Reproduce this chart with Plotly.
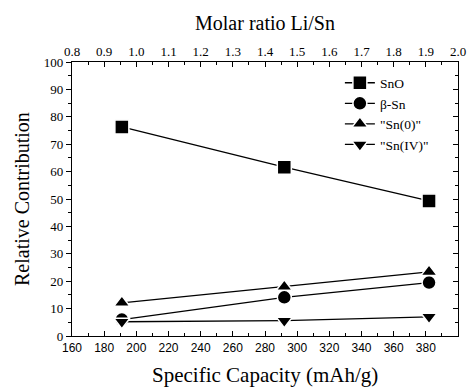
import plotly.graph_objects as go

capacity = [191, 292, 382]
sno = [76.3, 61.6, 49.3]
beta_sn = [6.0, 14.1, 19.5]
sn0 = [12.1, 18.0, 23.4]
sniv = [5.2, 5.6, 7.0]
series_names = ["SnO", "β-Sn", "\"Sn(0)\"", "\"Sn(IV)\""]
symbols = ["square", "circle", "triangle-up", "triangle-down"]

serif = "Liberation Serif"
fig = go.Figure()
for name, vals, sym in zip(series_names, [sno, beta_sn, sn0, sniv], symbols):
    fig.add_trace(go.Scatter(
        x=capacity, y=vals, name=name, mode="lines+markers",
        line=dict(color="black", width=1.3),
        marker=dict(symbol=sym, size=14, color="black", line=dict(color="white", width=1.5)),
    ))

# dummy trace to anchor secondary axes
fig.add_trace(go.Scatter(x=[0.8], y=[None], xaxis="x2", yaxis="y2", showlegend=False, hoverinfo="skip"))

axis_common = dict(showline=True, linecolor="black", linewidth=1.2, showgrid=False, zeroline=False,
                   ticklen=5, tickwidth=1, tickcolor="black", automargin=False)
fig.update_layout(
    width=468, height=387,
    margin=dict(l=72, r=10, t=62, b=51),
    plot_bgcolor="white", paper_bgcolor="white",
    font=dict(family=serif, color="black"),
    xaxis=dict(range=[160, 400], dtick=20, ticks="inside", mirror=False,
               tickfont=dict(family="Liberation Sans", size=12, color="black"),
               minor=dict(dtick=10, ticks="inside", ticklen=3, tickcolor="black"),
               **axis_common),
    xaxis2=dict(range=[0.8, 2.0], dtick=0.1, tickformat=".1f", overlaying="x", side="top", ticks="inside",
                tickfont=dict(family=serif, size=13, color="black"),
                minor=dict(dtick=0.05, ticks="inside", ticklen=3, tickcolor="black"),
                **axis_common),
    yaxis=dict(range=[0, 100], dtick=10, ticks="outside",
               tickfont=dict(family=serif, size=13, color="black"),
               minor=dict(dtick=5, ticks="outside", ticklen=3, tickcolor="black"),
               **axis_common),
    yaxis2=dict(range=[0, 100], dtick=10, overlaying="y", side="right", ticks="inside",
                showticklabels=False,
                minor=dict(dtick=5, ticks="inside", ticklen=3, tickcolor="black"),
                **axis_common),
    legend=dict(x=0.694, y=0.98, xanchor="left", yanchor="top", bgcolor="rgba(0,0,0,0)",
                font=dict(size=13.5, family=serif, color="black"), tracegroupgap=0, itemwidth=30),
    annotations=[
        dict(text="Specific Capacity (mAh/g)", xref="paper", yref="paper", x=0.5, y=0, yshift=-39,
             xanchor="center", yanchor="middle", showarrow=False, font=dict(family=serif, size=21)),
        dict(text="Molar ratio Li/Sn", xref="paper", yref="paper", x=0.5, y=1, yshift=39,
             xanchor="center", yanchor="middle", showarrow=False, font=dict(family=serif, size=20)),
        dict(text="Relative Contribution", xref="paper", yref="paper", x=0, y=0.5, xshift=-50,
             xanchor="center", yanchor="middle", textangle=-90, showarrow=False,
             font=dict(family=serif, size=20)),
    ],
)

fig.write_html("out.html", config={"displayModeBar": False},
               post_script="document.body.style.margin='0';document.body.style.overflow='hidden';")
